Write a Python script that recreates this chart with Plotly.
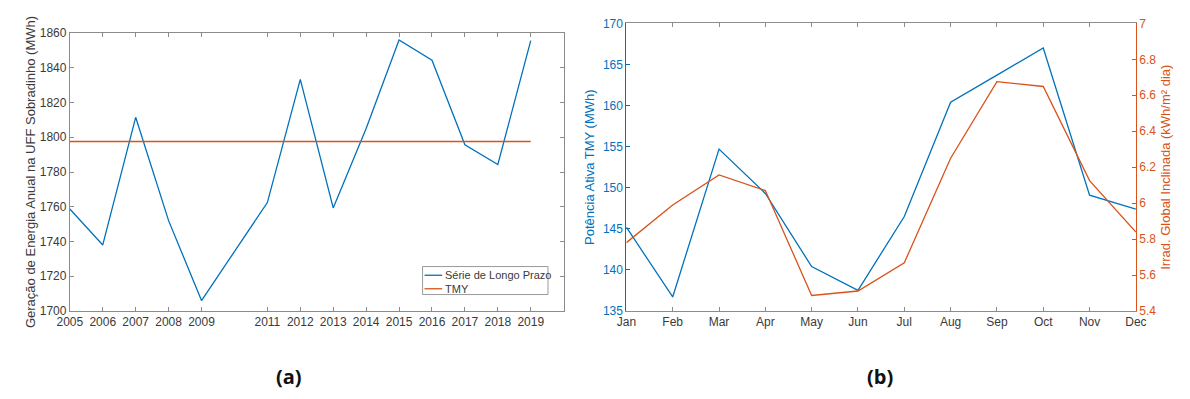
import plotly.graph_objects as go

# (a) annual energy generation, long-term series vs TMY
years = [2005, 2006, 2007, 2008, 2009, 2011, 2012, 2013, 2014, 2015, 2016, 2017, 2018, 2019]
long_term = [1758.7, 1738, 1811.5, 1752, 1706, 1762.4, 1833.3, 1759.3, 1805, 1856, 1844.4, 1795.7, 1784.3, 1855.6]
tmy_annual = 1797.6
year_ticks = [2005, 2006, 2007, 2008, 2009, 2011, 2012, 2013, 2014, 2015, 2016, 2017, 2018, 2019]
series_names = ["Série de Longo Prazo", "TMY"]

# (b) monthly TMY active power and tilted global irradiation
months = ["Jan", "Feb", "Mar", "Apr", "May", "Jun", "Jul", "Aug", "Sep", "Oct", "Nov", "Dec"]
power_mwh = [145.2, 136.7, 154.7, 149.3, 140.4, 137.5, 146.5, 160.4, 163.7, 167.0, 149.1, 147.4]
irrad = [5.78, 5.99, 6.157, 6.07, 5.486, 5.511, 5.668, 6.25, 6.676, 6.649, 6.125, 5.839]

BLUE = "#0072BD"
ORANGE = "#D95319"
AXIS = "#8c8c8c"
TEXT = "#3a3a3a"
FONT = "Liberation Sans, Arial, sans-serif"

W, H = 1190, 399
def px_x(p):
    return p / W
def px_y(p):
    return (H - p) / H

month_idx = list(range(1, 13))

fig = go.Figure()

fig.add_trace(go.Scatter(x=years, y=long_term, mode="lines", name=series_names[0], showlegend=False,
                         line=dict(color=BLUE, width=1.3), xaxis="x", yaxis="y"))
fig.add_trace(go.Scatter(x=[years[0], years[-1]], y=[tmy_annual, tmy_annual], mode="lines",
                         name=series_names[1], showlegend=False,
                         line=dict(color=ORANGE, width=1.6), xaxis="x", yaxis="y"))

fig.add_trace(go.Scatter(x=month_idx, y=power_mwh, mode="lines", showlegend=False,
                         line=dict(color=BLUE, width=1.3), xaxis="x2", yaxis="y2"))
fig.add_trace(go.Scatter(x=month_idx, y=irrad, mode="lines", showlegend=False,
                         line=dict(color=ORANGE, width=1.3), xaxis="x2", yaxis="y3"))

common_axis = dict(showgrid=False, zeroline=False, ticks="inside", ticklen=4,
                   linewidth=1, tickfont=dict(family=FONT, size=12, color=TEXT))

# compact MATLAB-style legend box for panel (a)
leg_x0, leg_x1, leg_y0, leg_y1 = 418, 546, 269, 298
shapes = [dict(type="rect", xref="paper", yref="paper",
               x0=px_x(leg_x0), x1=px_x(leg_x1), y0=px_y(leg_y1), y1=px_y(leg_y0),
               line=dict(color="#9a9a9a", width=1), fillcolor="white", layer="above")]
annotations = []
for i, (name, col) in enumerate(zip(series_names, [BLUE, ORANGE])):
    row_y = 278 + i * 14
    shapes.append(dict(type="line", xref="paper", yref="paper",
                       x0=px_x(420), x1=px_x(438), y0=px_y(row_y), y1=px_y(row_y),
                       line=dict(color=col, width=1.3), layer="above"))
    annotations.append(dict(text=name, x=px_x(439), y=px_y(row_y), xref="paper", yref="paper",
                            xanchor="left", yanchor="middle", showarrow=False,
                            font=dict(family=FONT, size=11, color=TEXT)))

annotations += [
    dict(text="<b>(a)</b>", x=px_x(282), y=px_y(383), xref="paper", yref="paper",
         xanchor="center", yanchor="middle", showarrow=False,
         font=dict(family="Open Sans, sans-serif", size=20, color="#111")),
    dict(text="<b>(b)</b>", x=px_x(885), y=px_y(383), xref="paper", yref="paper",
         xanchor="center", yanchor="middle", showarrow=False,
         font=dict(family="Open Sans, sans-serif", size=20, color="#111")),
]

fig.update_layout(
    width=W, height=H,
    margin=dict(l=0, r=0, t=0, b=0),
    paper_bgcolor="white", plot_bgcolor="white",
    font=dict(family=FONT, color=TEXT),
    showlegend=False,
    xaxis=dict(domain=[px_x(58), px_x(562)], range=[2005, 2020], tickvals=year_ticks,
               linecolor=AXIS, tickcolor=AXIS, mirror="ticks", anchor="y", **common_axis),
    yaxis=dict(domain=[px_y(315), px_y(27)], range=[1700, 1860], dtick=20,
               linecolor=AXIS, tickcolor=AXIS, mirror="ticks", anchor="x",
               title=dict(text="Geração de Energia Anual na UFF Sobradinho (MWh)",
                          font=dict(family=FONT, size=13, color=TEXT), standoff=1),
               **common_axis),
    xaxis2=dict(domain=[px_x(626), px_x(1146)], range=[1, 12], tickvals=month_idx, ticktext=months,
                linecolor=AXIS, tickcolor=AXIS, mirror="ticks", anchor="y2", **common_axis),
    yaxis2=dict(domain=[px_y(315), px_y(17)], range=[135, 170], dtick=5, anchor="x2",
                linecolor=BLUE, tickcolor=BLUE, showline=True,
                title=dict(text="Potência Ativa TMY (MWh)", font=dict(family=FONT, size=13, color=BLUE),
                           standoff=5),
                **{**common_axis, "tickfont": dict(family=FONT, size=12, color=BLUE)}),
    yaxis3=dict(range=[5.4, 7.0], dtick=0.2, overlaying="y2", side="right", anchor="x2",
                linecolor=ORANGE, tickcolor=ORANGE, showline=True, tickformat="~g",
                title=dict(text="Irrad. Global Inclinada (kWh/m² dia)",
                           font=dict(family=FONT, size=13, color=ORANGE), standoff=5),
                **{**common_axis, "tickfont": dict(family=FONT, size=12, color=ORANGE)}),
    shapes=shapes,
    annotations=annotations,
)

fig.write_html("out.html")
